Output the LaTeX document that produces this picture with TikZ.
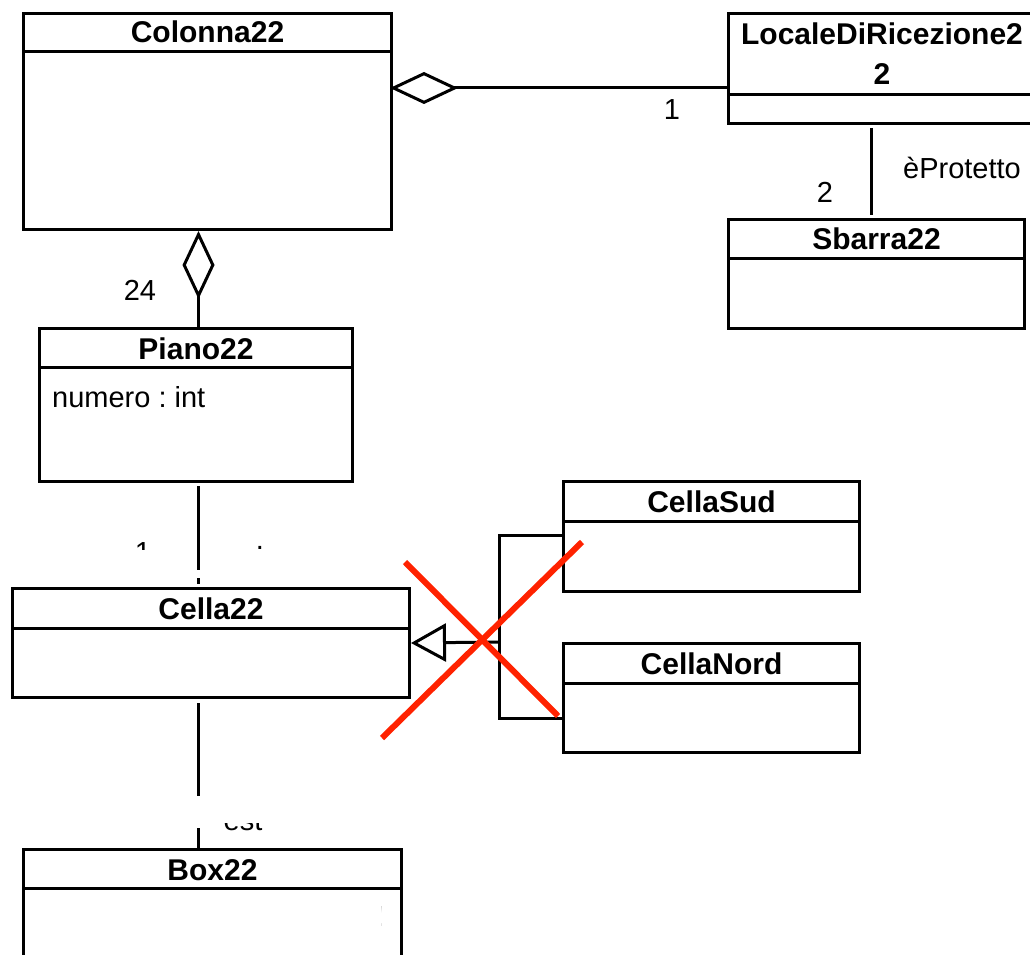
\documentclass[tikz,border=0pt]{standalone}
\usepackage{xcolor}
\usepackage{fontspec}
\setmainfont{Liberation Sans}
\usetikzlibrary{arrows.meta,positioning,calc}

\definecolor{crossred}{RGB}{255,34,0}
\frenchspacing

\tikzset{
  classbox/.style={draw, line width=3pt, anchor=north west, inner sep=0pt},
  classname/.style={font=\bfseries\fontsize{30}{40}\selectfont, inner sep=0pt, align=center},
  lbl/.style={font=\fontsize{29}{34}\selectfont, inner sep=0pt},
  assoc/.style={line width=3pt},
  agg/.style={line width=3pt, {Diamond[open,length=68pt,width=32pt]}-},
  gen/.style={line width=3pt, {Triangle[open,length=35pt,width=38pt]}-},
  cross/.style={line width=6pt, draw=crossred},
}

\begin{document}
\begin{tikzpicture}[x=1pt, y=-1pt]
    \clip (0,0) rectangle (1030,955);

    % classes
    \node[classbox, minimum width=368pt, minimum height=216pt] (colonna) at (22,12) {};
    \node[classname] at ($(colonna.north)+(0,20)$) {Colonna22};
    \draw[assoc] ($(colonna.north west)+(0,40)$) -- ($(colonna.north east)+(0,40)$);

    \node[classbox, minimum width=307pt, minimum height=110pt] (locale) at (727,12) {};
    \node[classname] at ($(locale.north)+(0,42)$) {LocaleDiRicezione2\\2};
    \draw[assoc] ($(locale.north west)+(0,83)$) -- ($(locale.north east)+(0,83)$);

    \node[classbox, minimum width=296pt, minimum height=109pt] (sbarra) at (727,218) {};
    \node[classname] at ($(sbarra.north)+(0,21)$) {Sbarra22};
    \draw[assoc] ($(sbarra.north west)+(0,40)$) -- ($(sbarra.north east)+(0,40)$);

    \node[classbox, minimum width=313pt, minimum height=153pt] (piano) at (38,327) {};
    \node[classname] at ($(piano.north)+(0,22)$) {Piano22};
    \draw[assoc] ($(piano.north west)+(0,40)$) -- ($(piano.north east)+(0,40)$);
    \node[lbl, anchor=west] (pianoattr) at ($(piano.north west)+(14,70)$) {numero : int};

    \node[classbox, minimum width=397pt, minimum height=109pt] (cella) at (11,587) {};
    \node[classname] at ($(cella.north)+(0,22)$) {Cella22};
    \draw[assoc] ($(cella.north west)+(0,41)$) -- ($(cella.north east)+(0,41)$);

    \node[classbox, minimum width=296pt, minimum height=110pt] (cellasud) at (562,480) {};
    \node[classname] at ($(cellasud.north)+(0,22)$) {CellaSud};
    \draw[assoc] ($(cellasud.north west)+(0,41)$) -- ($(cellasud.north east)+(0,41)$);

    \node[classbox, minimum width=296pt, minimum height=109pt] (cellanord) at (562,642) {};
    \node[classname] at ($(cellanord.north)+(0,22)$) {CellaNord};
    \draw[assoc] ($(cellanord.north west)+(0,41)$) -- ($(cellanord.north east)+(0,41)$);

    \node[classbox, minimum width=378pt, minimum height=130pt] (box) at (22,848) {};
    \node[classname] at ($(box.north)+(0,22)$) {Box22};
    \draw[assoc] ($(box.north west)+(0,40)$) -- ($(box.north east)+(0,40)$);

    % associations
    \coordinate (aggcl) at (390,88);
    \draw[agg] (aggcl) -- (aggcl -| locale.west);
    \node[lbl] (m1) at (672,110) {1};

    \draw[agg] ($(colonna.south -| piano.north)+(2.5,0)$) -- ($(piano.north)+(2.5,0)$);
    \node[lbl] (m24) at (140,290) {24};

    \draw[assoc] ($(locale.south)+(-11,3)$) -- ($(locale.south |- sbarra.north)+(-11,-3)$);
    \node[lbl] (m2) at (825,192) {2};
    \node[lbl] (eprot) at (962,168) {èProtetto};

    \draw[assoc] ($(piano.south)+(2.5,3)$) -- ($(piano.south)+(2.5,87)$);
    \draw[assoc] ($(cella.north -| piano.south)+(2.5,-9)$) -- ($(cella.north -| piano.south)+(2.5,-3)$);
    \begin{scope}
      \clip (110,536) rectangle (300,549);
      \node[lbl, anchor=base] at (143,562) {1};
    \end{scope}
    \node[lbl, anchor=base] at (260,549) {.};

    \draw[assoc] ($(cella.south -| piano.south)+(2.5,4)$) -- ($(cella.south -| piano.south)+(2.5,97)$);
    \draw[assoc] ($(box.north -| piano.south)+(2.5,-20)$) -- ($(box.north -| piano.south)+(2.5,0)$);
    \begin{scope}
      \clip (200,823) rectangle (300,835);
      \node[lbl, anchor=base] at (243,830) {est};
    \end{scope}
    \begin{scope}
      \clip (381,895) rectangle (395,935);
      \node[lbl, anchor=base] at (380,926) {!};
    \end{scope}

    % generalization
    \coordinate (fork) at (499,642);
    \draw[gen] (cella.east) -- (fork);
    \draw[assoc] (cellasud.west |- 0,535) -| (fork) |- (cellanord.west |- 0,718);

    % cross
    \draw[cross] (405,562) -- (558,716);
    \draw[cross] (382,738) -- (582,542);
\end{tikzpicture}
\end{document}
